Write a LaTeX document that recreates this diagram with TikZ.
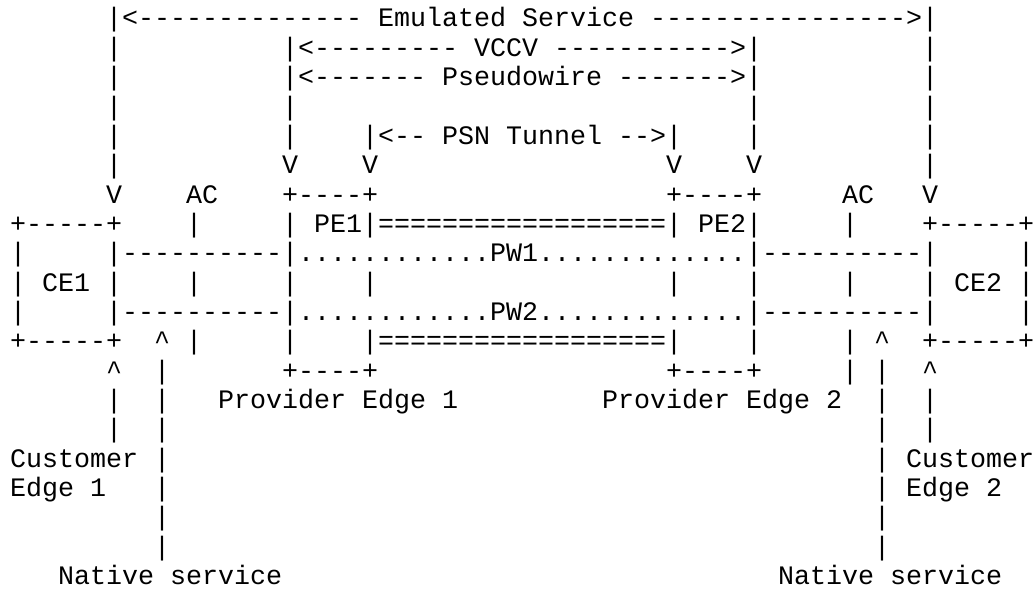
\documentclass[tikz,border=0pt]{standalone}
\usepackage{fontspec}
\setmonofont{Liberation Mono}
\usepackage{tikz}

\begin{document}
\begin{tikzpicture}[x=0.75pt, y=-0.75pt,
    ascii/.style={font=\ttfamily\fontsize{20pt}{22pt}\selectfont, anchor=base west, inner sep=0pt, outer sep=0pt}]
                \path[fill=white, use as bounding box] (0,0) rectangle (1034,592);
                \foreach \row/\col/\txt in {
                    1/9/{|<-------------- Emulated Service ---------------->|},
                    2/9/{|}, 2/20/{|<--------- VCCV ----------->|}, 2/60/{|},
                    3/9/{|}, 3/20/{|<------- Pseudowire ------->|}, 3/60/{|},
                    4/9/{|}, 4/20/{|}, 4/49/{|}, 4/60/{|},
                    5/9/{|}, 5/20/{|}, 5/25/{|<-- PSN Tunnel -->|}, 5/49/{|}, 5/60/{|},
                    6/9/{|}, 6/20/{V}, 6/25/{V}, 6/44/{V}, 6/49/{V}, 6/60/{|},
                    7/9/{V}, 7/14/{AC}, 7/20/{+----+}, 7/44/{+----+}, 7/55/{AC}, 7/60/{V},
                    8/3/{+-----+}, 8/14/{|}, 8/20/{| PE1|==================| PE2|}, 8/55/{|}, 8/60/{+-----+},
                    9/3/{|}, 9/9/{|----------|............PW1.............|----------|}, 9/66/{|},
                    10/3/{| CE1 |}, 10/14/{|}, 10/20/{|}, 10/25/{|}, 10/44/{|}, 10/49/{|}, 10/55/{|}, 10/60/{| CE2 |},
                    11/3/{|}, 11/9/{|----------|............PW2.............|----------|}, 11/66/{|},
                    12/3/{+-----+}, 12/12/{\textasciicircum}, 12/14/{|}, 12/20/{|}, 12/25/{|==================|},
                    12/49/{|}, 12/55/{|}, 12/57/{\textasciicircum}, 12/60/{+-----+},
                    13/9/{\textasciicircum}, 13/12/{|}, 13/20/{+----+}, 13/44/{+----+}, 13/55/{|}, 13/57/{|}, 13/60/{\textasciicircum},
                    14/9/{|}, 14/12/{|}, 14/16/{Provider Edge 1}, 14/40/{Provider Edge 2}, 14/57/{|}, 14/60/{|},
                    15/9/{|}, 15/12/{|}, 15/57/{|}, 15/60/{|},
                    16/3/{Customer}, 16/12/{|}, 16/57/{|}, 16/59/{Customer},
                    17/3/{Edge 1}, 17/12/{|}, 17/57/{|}, 17/59/{Edge 2},
                    18/12/{|}, 18/57/{|},
                    19/12/{|}, 19/57/{|},
                    20/6/{Native service}, 20/51/{Native service}}
                    \node[ascii] (t\row-\col) at ({16*\col-38}, {27+(\row-1)*29.3333}) {\txt};
            \end{tikzpicture}
\end{document}
